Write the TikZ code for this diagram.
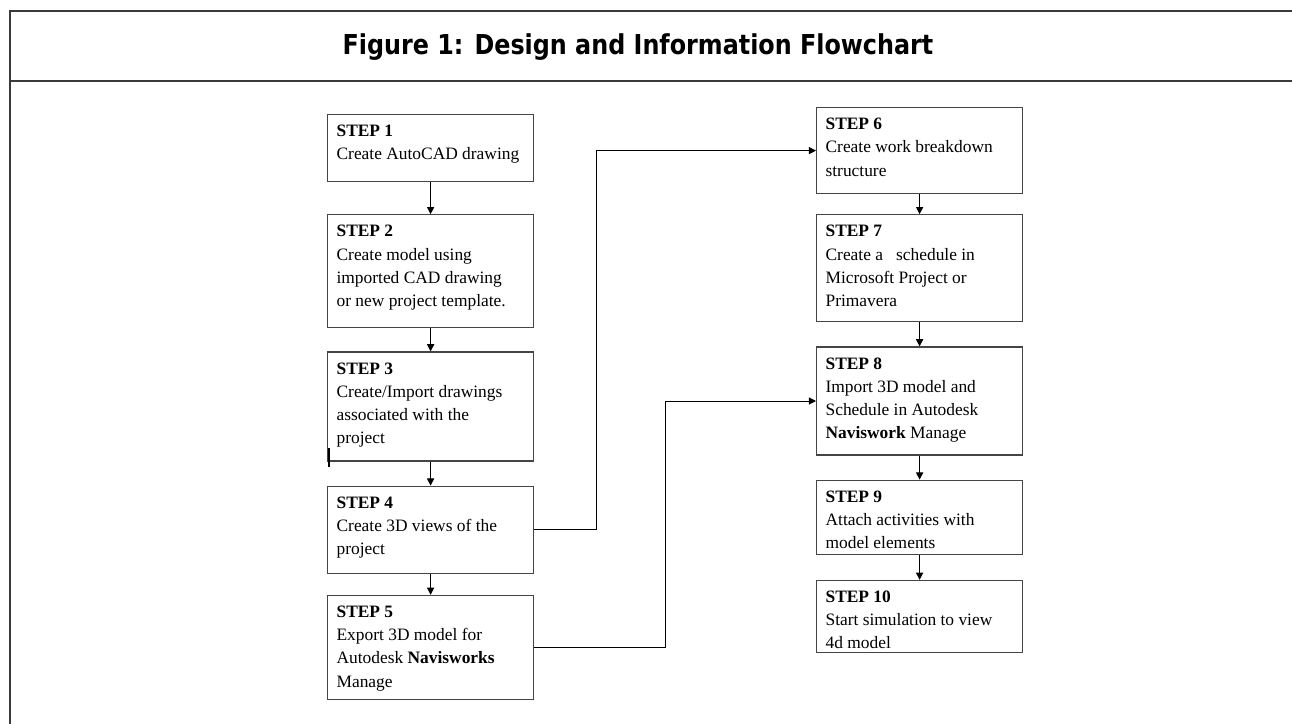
\documentclass[tikz,border=0pt]{standalone}
\usepackage{fontspec}
\setmainfont{Liberation Serif}
\newfontfamily\headfont{DejaVu Sans}
\usetikzlibrary{arrows.meta,positioning}
\definecolor{frameGray}{HTML}{3A3A3A}
\definecolor{boxGray}{HTML}{454545}

\begin{document}
\begin{tikzpicture}[
  >={Triangle[length=3.6pt,width=3.6pt]},
  stepnode/.style={draw=boxGray,line width=0.6pt,align=flush left,text width=94pt,inner xsep=4.5pt,inner ysep=3pt,text height=8pt,font=\fontsize{8.7pt}{11.6pt}\selectfont},
  link/.style={->,line width=0.5pt}]
  \useasboundingbox (0,0) rectangle (646pt,-362pt);
  % frame and title
  \draw[frameGray,line width=1pt] (646pt,-5.5pt) -- (5pt,-5.5pt) -- (5pt,-362pt);
  \draw[frameGray,line width=1pt] (5pt,-40.5pt) -- (646pt,-40.5pt);
  \node[font=\headfont\bfseries\fontsize{13.7pt}{16pt}\selectfont,anchor=base] (title) at (319pt,-27pt)
    {\scalebox{0.87}[1]{Figure 1: Design and Information Flowchart}};
  % left column
  \node[stepnode,text depth=19.5pt,anchor=north west] (s1) at (163.5pt,-57pt) {\textbf{STEP 1}\\Create AutoCAD drawing};
  \node[stepnode,text depth=42.5pt,below=16pt of s1] (s2) {\textbf{STEP 2}\\Create model using\\imported CAD drawing\\or new project template.};
  \node[stepnode,text depth=40.5pt,below=11.5pt of s2] (s3) {\textbf{STEP 3}\\Create/Import drawings\\associated with the\\project};
  \node[stepnode,text depth=29.5pt,below=12pt of s3] (s4) {\textbf{STEP 4}\\Create 3D views of the\\project};
  \node[stepnode,text depth=38pt,below=10.5pt of s4] (s5) {\textbf{STEP 5}\\Export 3D model for\\Autodesk \textbf{Navisworks}\\Manage};
  % right column
  \node[stepnode,text depth=29pt,anchor=north west] (s6) at (408pt,-53.5pt) {\textbf{STEP 6}\\Create work breakdown\\structure};
  \node[stepnode,text depth=39.5pt,below=10pt of s6] (s7) {\textbf{STEP 7}\\Create a \ \ schedule in\\Microsoft Project or\\Primavera};
  \node[stepnode,text depth=40pt,below=12pt of s7] (s8) {\textbf{STEP 8}\\Import 3D model and\\Schedule in Autodesk\\\textbf{Naviswork} Manage};
  \node[stepnode,text depth=23pt,below=12pt of s8] (s9) {\textbf{STEP 9}\\Attach activities with\\model elements};
  \node[stepnode,text depth=22pt,below=12.5pt of s9] (s10) {\textbf{STEP 10}\\Start simulation to view\\4d model};
  % connectors
  \foreach \a/\b in {s1/s2,s2/s3,s3/s4,s4/s5,s6/s7,s7/s8,s8/s9,s9/s10}
    \draw[link] (\a.south) -- (\b.north);
  \draw[link] (s4.east) -- ++(31pt,0) |- (s6.west);
  \draw[link] (s5.east) -- ++(65.5pt,0) |- (s8.west);
  \draw[line width=1pt] (164.5pt,-224pt) -- (164.5pt,-233.5pt);
\end{tikzpicture}
\end{document}
